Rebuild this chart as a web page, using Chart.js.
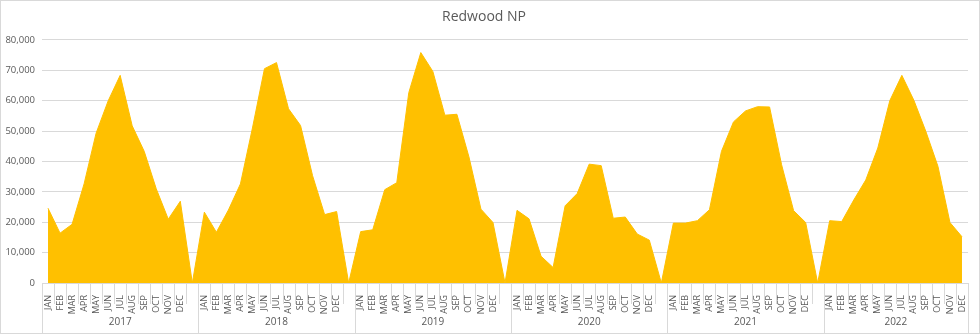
<!DOCTYPE html>
<html>
<head>
<meta charset="utf-8">
<script src="https://cdn.jsdelivr.net/npm/chart.js@4/dist/chart.umd.min.js"></script>
<style>
  html, body { margin: 0; padding: 0; background: #fff; }
  #wrap { width: 980px; height: 334px; }
</style>
</head>
<body>
<div id="wrap"><canvas id="chart" width="980" height="334"></canvas></div>
<script>
// data
const months = ["JAN", "FEB", "MAR", "APR", "MAY", "JUN", "JUL", "AUG", "SEP", "OCT", "NOV", "DEC"];
const years = ["2017", "2018", "2019", "2020", "2021", "2022"];
const v2017 = [24600, 16400, 19300, 32600, 49300, 59900, 68300, 51700, 43300, 31000, 21000, 26900];
const v2018 = [23300, 16700, 24000, 32600, 51000, 70500, 72500, 57300, 51800, 35300, 22500, 23500];
const v2019 = [16900, 17500, 30700, 33000, 62600, 75800, 69600, 55200, 55500, 41500, 24300, 19900];
const v2020 = [23900, 21100, 8800, 5100, 25400, 29400, 39100, 38600, 21300, 21700, 16100, 14100];
const v2021 = [19700, 19700, 20500, 24100, 43300, 53000, 56600, 58000, 57900, 38900, 23800, 19900];
const v2022 = [20500, 20200, 27300, 33900, 44400, 60000, 68300, 60100, 49800, 38400, 19900, 15200];
const yearValues = [v2017, v2018, v2019, v2020, v2021, v2022];

// each year is followed by an empty category (value 0), except the last
const labels = [];
const values = [];
const groups = []; // [firstIndex, lastIndex] for each year
years.forEach((y, k) => {
    const start = labels.length;
    months.forEach((m, i) => {
        labels.push(m);
        values.push(yearValues[k][i]);
    });
    if (k < years.length - 1) {
        labels.push("");
        values.push(0);
    }
    groups.push([start, labels.length - 1]);
});

const gridColor = "#d9d9d9";
const textColor = "#595959";
const fontFamily = "'Open Sans', 'Liberation Sans', sans-serif";

// separators, year labels and outer border
const categoryAxis = {
    id: "categoryAxis",
    afterDraw(chart) {
        const ctx = chart.ctx;
        const x = chart.scales.x;
        const area = chart.chartArea;
        const half = (x.getPixelForValue(1) - x.getPixelForValue(0)) / 2;
        const yearStarts = new Set(groups.map(g => g[0]));
        ctx.save();
        ctx.strokeStyle = gridColor;
        ctx.lineWidth = 1;
        for (let i = 0; i <= labels.length; i++) {
            const px = Math.round((i < labels.length ? x.getPixelForValue(i) - half : x.getPixelForValue(i - 1) + half)) + 0.5;
            const isYear = yearStarts.has(i) || i === labels.length;
            ctx.beginPath();
            ctx.moveTo(px, area.bottom);
            ctx.lineTo(px, isYear ? 333 : 304);
            ctx.stroke();
        }
        ctx.fillStyle = textColor;
        ctx.font = "10px " + fontFamily;
        ctx.textAlign = "center";
        ctx.textBaseline = "middle";
        groups.forEach((g, k) => {
            const cx = (x.getPixelForValue(g[0]) + x.getPixelForValue(g[1])) / 2;
            ctx.fillText(years[k], cx, 322);
        });
        ctx.strokeRect(0.5, 0.5, chart.width - 1, chart.height - 1);
        ctx.restore();
    }
};

new Chart(document.getElementById("chart"), {
    type: "line",
    data: {
        labels: labels,
        datasets: [{
            data: values,
            fill: "origin",
            backgroundColor: "#ffc000",
            borderColor: "#ffc000",
            borderWidth: 1,
            pointRadius: 0,
            tension: 0
        }]
    },
    options: {
        responsive: false,
        animation: false,
        layout: { padding: { left: 0, right: 12, top: 0, bottom: 0 } },
        plugins: {
            legend: { display: false },
            tooltip: { enabled: false },
            title: {
                display: true,
                text: "Redwood NP",
                color: textColor,
                font: { family: fontFamily, size: 14, weight: "normal" },
                padding: { top: 9, bottom: 14 }
            }
        },
        scales: {
            x: {
                type: "category",
                offset: true,
                grid: { display: false },
                border: { display: true, color: gridColor },
                ticks: {
                    autoSkip: false,
                    maxRotation: 90,
                    minRotation: 90,
                    padding: 4,
                    color: textColor,
                    font: { family: fontFamily, size: 9 }
                },
                afterFit(scale) { scale.height = 51; }
            },
            y: {
                min: 0,
                max: 80000,
                grid: { color: gridColor, drawTicks: false },
                border: { display: false },
                ticks: {
                    stepSize: 10000,
                    padding: 7,
                    color: textColor,
                    font: { family: fontFamily, size: 9.5 },
                    callback: v => v.toLocaleString("en-US")
                },
                afterFit(scale) { scale.width = 42; }
            }
        }
    },
    plugins: [categoryAxis]
});
</script>
</body>
</html>
